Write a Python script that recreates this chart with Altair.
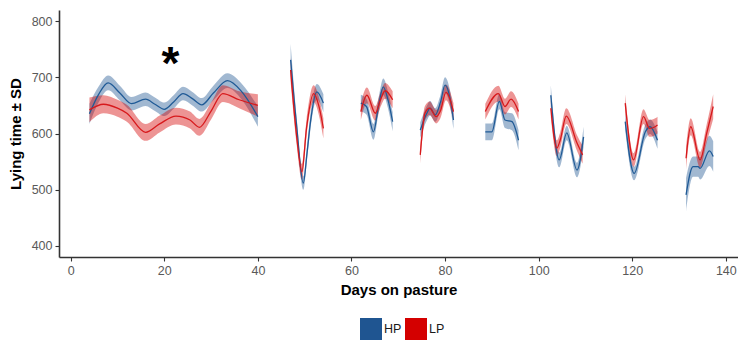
import altair as alt
import pandas as pd

# Daily lying time (min/d) on pasture: smoothed mean and SD per herd group
HP_DAY = [4, 6, 8, 10.5, 13, 16, 18, 20, 22, 24, 26, 28, 30.5, 33.5, 36.5, 40,
          47, 48.3, 49.7, 50.5, 51.2, 52.6, 54,
          62, 63.2, 64.7, 65.8, 66.8, 67.8, 68.8,
          74.7, 76.1, 76.8, 77.9, 79, 80, 81, 81.8,
          88.6, 90, 91.6, 92.8, 94.3, 95.7,
          102.6, 104.4, 106, 108.2, 109.6,
          118.5, 120.4, 122.8, 123.8, 125.4,
          131.5, 133, 134.1, 134.5, 136.5, 137.3]
HP_MEAN = [635, 670, 690, 672, 653, 661, 652, 643, 656, 671, 662, 651, 672, 694, 675, 630,
           731, 612, 512, 565, 618, 674, 654,
           654, 648, 603, 650, 683, 660, 621,
           606, 636, 645, 633, 655, 686, 665, 624,
           603, 603, 657, 624, 621, 588,
           668, 553, 601, 535, 594,
           621, 529, 603, 612, 588,
           491, 541, 541, 538, 569, 559]
HP_SD = [18, 14, 13, 13, 12, 12, 12, 12, 12, 12, 12, 12, 13, 13, 14, 18,
         28, 15, 12, 12, 13, 14, 16,
         15, 14, 14, 14, 15, 15, 17,
         14, 13, 13, 12, 13, 14, 14, 16,
         15, 15, 14, 14, 15, 18,
         18, 13, 13, 13, 18,
         15, 12, 13, 13, 15,
         30, 18, 18, 20, 27, 27]

LP_DAY = [4, 7, 10, 12, 16, 19, 22.5, 25.5, 27.5, 30, 32.5, 36, 40,
          47, 48.3, 49.4, 50.4, 51.9, 53, 54,
          62, 63.3, 65.1, 66.2, 67.2, 68.8,
          74.7, 75.7, 76.7, 78.1, 79, 80.2, 81.8,
          88.6, 91.4, 92.8, 94.1, 95.7,
          102.6, 103.9, 104.6, 105.9, 108.2, 109.4,
          118.5, 120.3, 122.4, 123.7, 124.9, 125.4,
          131.5, 132.5, 134.5, 135.9, 137.3]
LP_MEAN = [642, 652, 645, 636, 602, 617, 631, 624, 611, 640, 671, 660, 650,
           713, 594, 532, 610, 671, 650, 609,
           639, 668, 636, 660, 676, 660,
           562, 636, 645, 630, 640, 673, 639,
           639, 671, 648, 661, 639,
           645, 574, 588, 631, 583, 562,
           654, 553, 630, 609, 612, 615,
           556, 612, 553, 600, 648]
LP_SD = [22, 16, 15, 15, 15, 15, 15, 15, 15, 15, 15, 15, 20,
         22, 15, 14, 15, 15, 16, 18,
         15, 14, 13, 13, 14, 15,
         16, 13, 12, 12, 13, 14, 15,
         14, 14, 14, 14, 14,
         16, 14, 14, 14, 14, 16,
         16, 12, 13, 15, 15, 15,
         20, 15, 14, 16, 22]

GROUPS = ["HP", "LP"]
LINE_COLORS = ["#1f5a96", "#d7191c"]
LEGEND_COLORS = ["#1f5591", "#d40000"]

# Significance marker over the first grazing period
STAR_DAY = [21.3]
STAR_Y = [697]


def build(group, days, means, sds):
    rows = []
    seg = 0
    for i, (d, m, s) in enumerate(zip(days, means, sds)):
        if i > 0 and d - days[i - 1] > 4:
            seg += 1
        rows.append({"group": group, "segment": f"{group}-{seg}", "day": d,
                     "mean": m, "lo": m - s, "hi": m + s})
    return rows


df = pd.DataFrame(build("HP", HP_DAY, HP_MEAN, HP_SD) + build("LP", LP_DAY, LP_MEAN, LP_SD))
star = pd.DataFrame({"day": STAR_DAY, "y": STAR_Y, "t": ["*"]})

x_scale = alt.Scale(domain=[-2.5, 142.6], nice=False, zero=False)
y_scale = alt.Scale(domain=[380.4, 819.6], nice=False, zero=False)

x_axis = alt.Axis(title="Days on pasture", values=[0, 20, 40, 60, 80, 100, 120, 140], grid=False)
y_axis = alt.Axis(title="Lying time ± SD", values=[400, 500, 600, 700, 800], grid=False)

base = alt.Chart(df)

band = base.mark_area(opacity=0.42, interpolate="monotone").encode(
    x=alt.X("day:Q", scale=x_scale, axis=x_axis),
    y=alt.Y("lo:Q", scale=y_scale, axis=y_axis),
    y2="hi:Q",
    fill=alt.Fill("group:N", scale=alt.Scale(domain=GROUPS, range=LEGEND_COLORS),
                  legend=alt.Legend(title=None, orient="none", direction="horizontal",
                                    legendX=301, legendY=308,
                                    symbolType="square", symbolSize=484,
                                    symbolOpacity=1, symbolStrokeWidth=0,
                                    labelFontSize=12.5, labelColor="#1a1a1a",
                                    labelFont="Liberation Sans", labelOffset=2,
                                    columnPadding=3)),
    detail="segment:N",
)

line = base.mark_line(strokeWidth=1.3, interpolate="monotone").encode(
    x=alt.X("day:Q", scale=x_scale),
    y=alt.Y("mean:Q", scale=y_scale),
    stroke=alt.Stroke("group:N", scale=alt.Scale(domain=GROUPS, range=LINE_COLORS), legend=None),
    detail="segment:N",
)

marker = alt.Chart(star).mark_text(fontSize=46, fontWeight="bold", font="Liberation Sans",
                                   color="black", baseline="alphabetic").encode(
    x=alt.X("day:Q", scale=x_scale),
    y=alt.Y("y:Q", scale=y_scale),
    text="t:N",
)

chart = alt.layer(band, line, marker).properties(
    width=679, height=247,
    autosize=alt.AutoSizeParams(type="none"),
    padding={"left": 59, "top": 10, "right": 0, "bottom": 83},
).configure_view(stroke=None).configure_axis(
    domainColor="#333333", domainWidth=1.6,
    tickColor="#333333", tickWidth=1.1, tickSize=4,
    labelFont="Liberation Sans", labelFontSize=12.5, labelColor="#595959", labelPadding=3,
    titleFont="Liberation Sans", titleFontSize=15, titleFontWeight="bold", titleColor="black",
).configure_axisY(titlePadding=8).configure_axisX(titlePadding=6)

chart.save("out.html", embed_options={"renderer": "svg", "actions": False})
